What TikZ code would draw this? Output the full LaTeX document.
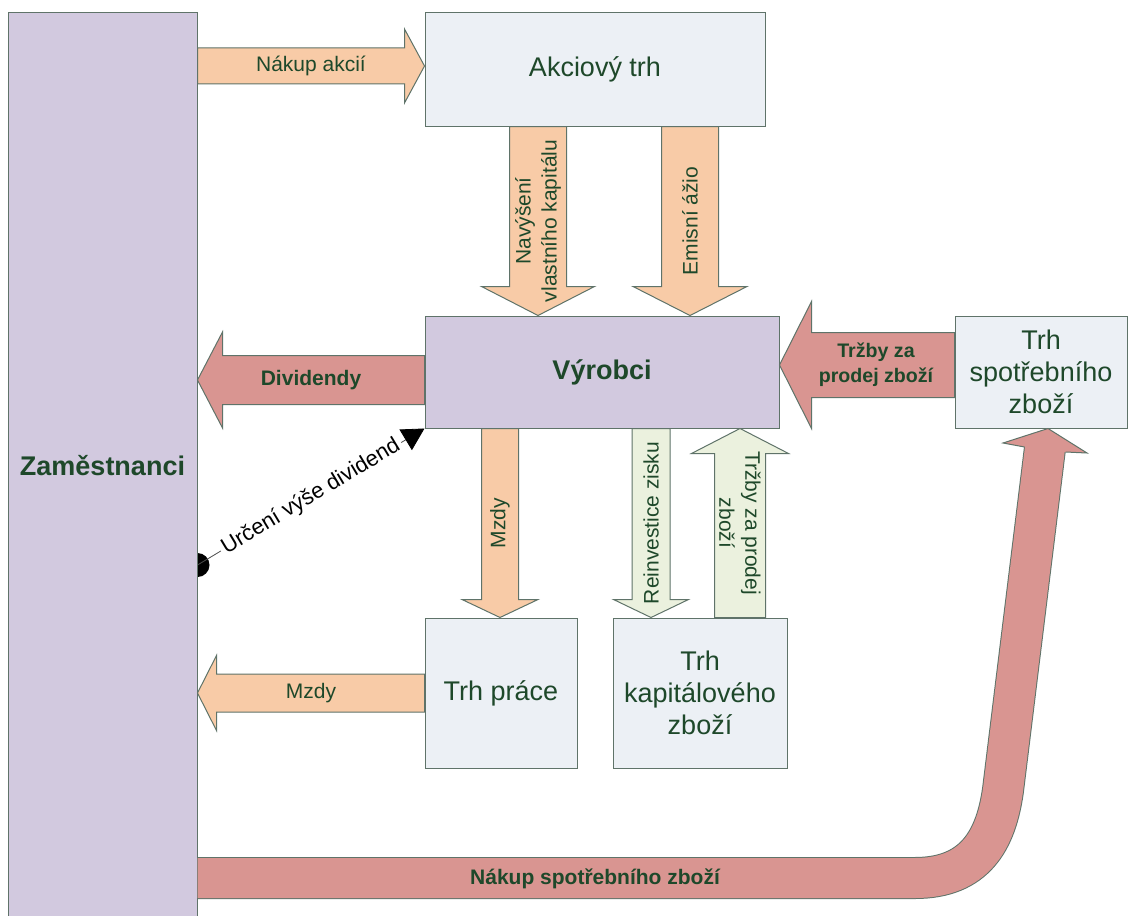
\documentclass[tikz,border=0pt]{standalone}
\usepackage{fontspec}
\setmainfont{Liberation Sans}
\usetikzlibrary{calc,arrows.meta,backgrounds}

\definecolor{okraj}{RGB}{95,115,105}
\definecolor{fialova}{RGB}{210,201,223}
\definecolor{seda}{RGB}{236,240,245}
\definecolor{broskev}{RGB}{248,203,167}
\definecolor{cervena}{RGB}{217,149,145}
\definecolor{zelena}{RGB}{235,241,222}
\definecolor{pismo}{RGB}{30,72,42}

\tikzset{
	trh/.style={draw=okraj, line width=0.5pt, fill=seda, text=pismo, align=center, font=\fontsize{13.5}{16}\selectfont},
	aktor/.style={trh, fill=fialova, font=\fontsize{13.5}{16}\selectfont\bfseries},
	popis/.style={text=pismo, align=center, inner sep=0pt, font=\fontsize{10.5}{13}\selectfont},
	tucne/.style={font=\fontsize{10.5}{13}\selectfont\bfseries},
	tokB/.style={draw=okraj, line width=0.5pt, fill=broskev},
	tokC/.style={draw=okraj, line width=0.5pt, fill=cervena},
	tokZ/.style={draw=okraj, line width=0.5pt, fill=zelena},
	pas/.style={draw=okraj, line width=0.5pt, double=cervena, double distance=20pt},
	urceni/.style={draw=black!70, line width=0.4pt, -{Triangle[length=11pt,width=12pt,color=black]}}
}

% tlusta sipka: [popis]{styl}{start}{cil}{pul sirky}{pul hlavy}{delka hlavy}{jmeno}{text}
\newcommand{\tok}[9][]{%
	\coordinate (tok-s) at #3;
	\coordinate (tok-e) at #4;
	\coordinate (tok-b) at ($(tok-e)!#7!(tok-s)$);
	\filldraw[#2] ($(tok-s)!#5!90:(tok-e)$) -- ($(tok-b)!#5!-90:(tok-s)$)
		-- ($(tok-b)!#6!-90:(tok-s)$) -- (tok-e) -- ($(tok-b)!#6!90:(tok-s)$)
		-- ($(tok-b)!#5!90:(tok-s)$) -- ($(tok-s)!#5!-90:(tok-e)$) -- cycle;
	\node[popis,#1] (#8) at ($(tok-s)!0.5!(tok-e)$) {#9};
}

\begin{document}
\begin{tikzpicture}[x=0.5pt, y=-0.5pt]
	\useasboundingbox (0,0) rectangle (1128,915);

	% uzly
	\node[aktor, minimum width=94.5pt, minimum height=453pt] (zam) at (102.5,466) {Zaměstnanci};
	\node[trh, minimum width=170pt, minimum height=56.5pt] (akcie) at (595,69.5) {Akciový trh};
	\node[aktor, minimum width=177pt, minimum height=56pt] (vyrobci) at (602,372) {Výrobci};
	\node[trh, minimum width=86pt, minimum height=56pt] (spotreb) at (1041,372) {Trh\\spotřebního\\zboží};
	\node[trh, minimum width=76pt, minimum height=75pt] (prace) at (501,693) {Trh práce};
	\node[trh, minimum width=87pt, minimum height=75pt] (kapital) at (700,693) {Trh\\kapitálového\\zboží};

	% toky
	\tok{tokB}{(zam.east |- 0,66)}{(akcie.west |- 0,66)}{9pt}{18.5pt}{10pt}{nakup}{Nákup akcií}
	\tok[rotate=90]{tokB}{(akcie.south -| 538,0)}{(vyrobci.north -| 538,0)}{14.25pt}{28.25pt}{14.5pt}{navyseni}{Navýšení\\vlastního kapitálu}
	\tok[rotate=90]{tokB}{(akcie.south -| 690,0)}{(vyrobci.north -| 690,0)}{14.25pt}{28.5pt}{14.5pt}{emisni}{Emisní ážio}
	\tok[tucne]{tokC}{(vyrobci.west |- 0,380)}{(zam.east |- 0,380)}{12.25pt}{24pt}{12.5pt}{dividendy}{Dividendy}
	\tok[tucne, font=\fontsize{9.8}{12.5}\selectfont\bfseries, xshift=4.5pt]{tokC}{(spotreb.west |- 0,365)}{(vyrobci.east |- 0,365)}{16.25pt}{31.75pt}{16pt}{trzby}{Tržby za\\prodej zboží}
	\tok[rotate=90]{tokB}{(vyrobci.south -| 500,0)}{(prace.north -| 500,0)}{9.25pt}{19pt}{9pt}{mzdy}{Mzdy}
	\tok[rotate=90]{tokZ}{(vyrobci.south -| 651,0)}{(kapital.north -| 651,0)}{9.5pt}{18.75pt}{9pt}{reinvestice}{Reinvestice zisku}
	\tok[rotate=-90]{tokZ}{(kapital.north -| 740,0)}{(vyrobci.south -| 740,0)}{12.75pt}{24.25pt}{12.5pt}{trzbykap}{Tržby za prodej\\zboží}
	\tok{tokB}{(prace.west)}{(zam.east |- prace.west)}{9.5pt}{18.75pt}{9.5pt}{mzdy2}{Mzdy}

	% nakup spotrebniho zbozi
	\draw[pas] (zam.east |- 0,878) -- (915,878) .. controls (975,878) and (996,840) .. (1003,790) -- (1045,448);
	\filldraw[tokC] (1024.5,447) -- (1003,443) -- (spotreb.south -| 1048,0) -- (1087,453) -- (1065.5,452);
	\node[popis, tucne] (nakupspotreb) at (595,879) {Nákup spotřebního zboží};

	% urceni vyse dividend
	\begin{scope}[on background layer]
		\coordinate (tecka) at (zam.east |- 0,565);
		\fill (tecka) circle (6pt);
		\draw[urceni] (tecka) -- node[sloped, fill=white, inner sep=1.5pt, text=black, font=\fontsize{11}{13}\selectfont] (urcenilabel) {Určení výše dividend} (vyrobci.south west);
	\end{scope}
\end{tikzpicture}
\end{document}
